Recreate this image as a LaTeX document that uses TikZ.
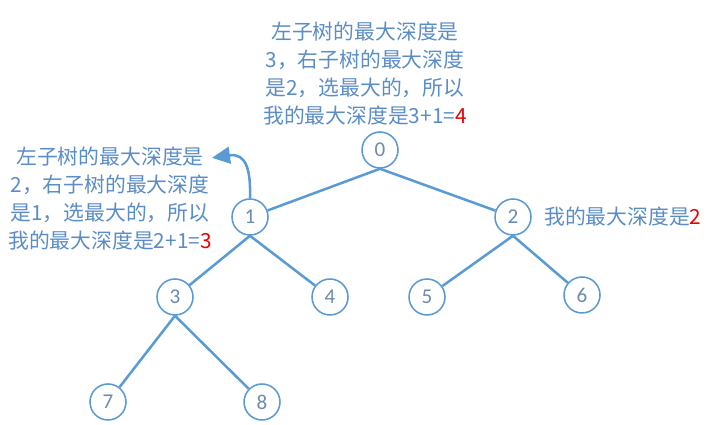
\documentclass[tikz,border=0pt]{standalone}
\usepackage{fontspec}
\setmainfont{Carlito}
\newfontfamily\cjk{Noto Sans CJK SC}
\usepackage{tikz}
\usetikzlibrary{arrows.meta}
\definecolor{treeblue}{HTML}{5B9BD5}
\definecolor{textblue}{HTML}{5A8CC6}
\definecolor{numgray}{HTML}{6C8BAE}
\definecolor{hotred}{HTML}{E80000}

\begin{document}
\begin{tikzpicture}[
		vertex/.style={circle, draw=treeblue, line width=1.1pt, fill=white, minimum size=0.9cm, inner sep=0pt, text=numgray, font=\fontsize{15}{15}\selectfont},
		branch/.style={draw=treeblue, line width=1.8pt},
		note/.style={text=textblue, align=center, inner sep=0pt, font=\cjk\fontsize{14.8}{20}\selectfont}
	]
		%%%%% START %%%%%
		
		\useasboundingbox (0, 0) rectangle (17.775, 10.625);
		
		\node[vertex] (n0) at (9.5, 6.875) {0};
		\node[vertex] (n1) at (6.25, 5.2) {1};
		\node[vertex] (n2) at (12.825, 5.2) {2};
		\node[vertex] (n3) at (4.375, 3.2) {3};
		\node[vertex] (n4) at (8.25, 3.2) {4};
		\node[vertex] (n5) at (10.675, 3.2) {5};
		\node[vertex] (n6) at (14.55, 3.25) {6};
		\node[vertex] (n7) at (2.7, 0.575) {7};
		\node[vertex] (n8) at (6.55, 0.575) {8};
		
		\draw[branch] (n0.south) -- (n1);
		\draw[branch] (n0.south) -- (n2);
		\draw[branch] (n1.south) -- (n3);
		\draw[branch] (n1.south) -- (n4);
		\draw[branch] (n2.south) -- (n5);
		\draw[branch] (n2.south) -- (n6);
		\draw[branch] (n3.south) -- (n7);
		\draw[branch] (n3.south) -- (n8);
		
		\node[note] (top) at (9.125, 8.79) {左子树的最大深度是\\3，右子树的最大深度\\是2，选最大的，所以\\我的最大深度是3+1=\textcolor{hotred}{4}};
		\node[note] (left) at (2.75, 5.66) {左子树的最大深度是\\2，右子树的最大深度\\是1，选最大的，所以\\我的最大深度是2+1=\textcolor{hotred}{3}};
		\node[note, anchor=west] (right) at (13.6, 5.2) {我的最大深度是\textcolor{hotred}{2}};
		
		\coordinate (tip) at (5.3, 6.68);
		\draw[treeblue, line width=1.8pt, -{Triangle[length=0.45cm, width=0.42cm]}] (n1.north) .. controls (6.27, 6.4) and (6.15, 6.8) .. (tip);
		
		%%%%% END %%%%%
	\end{tikzpicture}
\end{document}
